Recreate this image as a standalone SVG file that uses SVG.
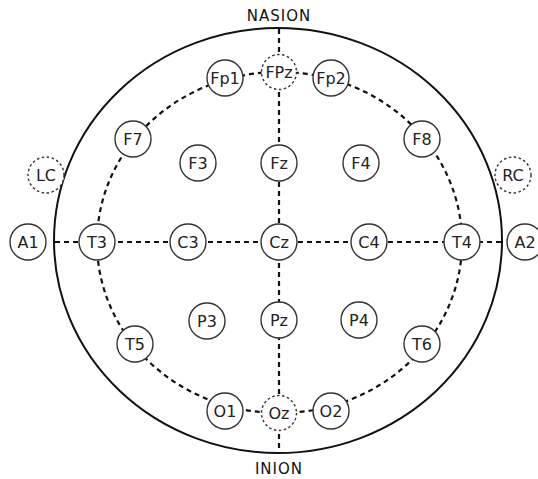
<svg xmlns="http://www.w3.org/2000/svg" width="538" height="479" viewBox="0 0 538 479">
<style>
.head{fill:none;stroke:#111;stroke-width:2}
.conn{fill:none;stroke:#111;stroke-width:2.2;stroke-dasharray:5 4}
.n circle{fill:#fff;stroke:#333;stroke-width:1.4}
.d circle{fill:#fff;stroke:#333;stroke-width:1.4;stroke-dasharray:2.5 2.5}
text{font-family:"DejaVu Sans","Liberation Sans",sans-serif;font-size:16px;fill:#222;text-anchor:middle;dominant-baseline:central}
.lbl{font-size:15px;letter-spacing:1px;fill:#111;dominant-baseline:auto}
</style>
<rect width="538" height="479" fill="#fff"/>
<text class="lbl" x="279" y="21">NASION</text>
<text class="lbl" x="279" y="474">INION</text>
<ellipse class="head" cx="278" cy="240.5" rx="224" ry="212.5"/>
<g id="connectors">
<ellipse class="conn" cx="279.5" cy="242.5" rx="182.5" ry="170.5"/>
<line class="conn" x1="279" y1="29" x2="279" y2="452"/>
<line class="conn" x1="55" y1="242" x2="501" y2="242"/>
</g>
<g id="FPz" class="d"><circle cx="279" cy="72" r="17.5"/><text x="279" y="72">FPz</text></g>
<g id="Fp1" class="n"><circle cx="225" cy="78" r="18"/><text x="225" y="78">Fp1</text></g>
<g id="Fp2" class="n"><circle cx="331" cy="78" r="18"/><text x="331" y="78">Fp2</text></g>
<g id="F7" class="n"><circle cx="133" cy="139" r="18"/><text x="133" y="139">F7</text></g>
<g id="F8" class="n"><circle cx="422" cy="139" r="18"/><text x="422" y="139">F8</text></g>
<g id="LC" class="d"><circle cx="46" cy="175" r="18"/><text x="46" y="175">LC</text></g>
<g id="RC" class="d"><circle cx="513" cy="175" r="18"/><text x="513" y="175">RC</text></g>
<g id="F3" class="n"><circle cx="198" cy="163" r="18"/><text x="198" y="163">F3</text></g>
<g id="Fz" class="n"><circle cx="279" cy="163" r="18"/><text x="279" y="163">Fz</text></g>
<g id="F4" class="n"><circle cx="361" cy="163" r="18"/><text x="361" y="163">F4</text></g>
<g id="A1" class="n"><circle cx="28" cy="242" r="18"/><text x="28" y="242">A1</text></g>
<g id="T3" class="n"><circle cx="97" cy="242" r="18"/><text x="97" y="242">T3</text></g>
<g id="C3" class="n"><circle cx="188" cy="242" r="18"/><text x="188" y="242">C3</text></g>
<g id="Cz" class="n"><circle cx="279" cy="242" r="18"/><text x="279" y="242">Cz</text></g>
<g id="C4" class="n"><circle cx="369" cy="242" r="18"/><text x="369" y="242">C4</text></g>
<g id="T4" class="n"><circle cx="462" cy="242" r="18"/><text x="462" y="242">T4</text></g>
<g id="A2" class="n"><circle cx="525" cy="242" r="18"/><text x="525" y="242">A2</text></g>
<g id="P3" class="n"><circle cx="207" cy="321" r="18"/><text x="207" y="321">P3</text></g>
<g id="Pz" class="n"><circle cx="279" cy="320" r="18"/><text x="279" y="320">Pz</text></g>
<g id="P4" class="n"><circle cx="359" cy="320" r="18"/><text x="359" y="320">P4</text></g>
<g id="T5" class="n"><circle cx="135" cy="344" r="18"/><text x="135" y="344">T5</text></g>
<g id="T6" class="n"><circle cx="422" cy="344" r="18"/><text x="422" y="344">T6</text></g>
<g id="O1" class="n"><circle cx="225" cy="411" r="18"/><text x="225" y="411">O1</text></g>
<g id="Oz" class="d"><circle cx="279" cy="413" r="17.5"/><text x="279" y="413">Oz</text></g>
<g id="O2" class="n"><circle cx="331" cy="411" r="18"/><text x="331" y="411">O2</text></g>
</svg>
